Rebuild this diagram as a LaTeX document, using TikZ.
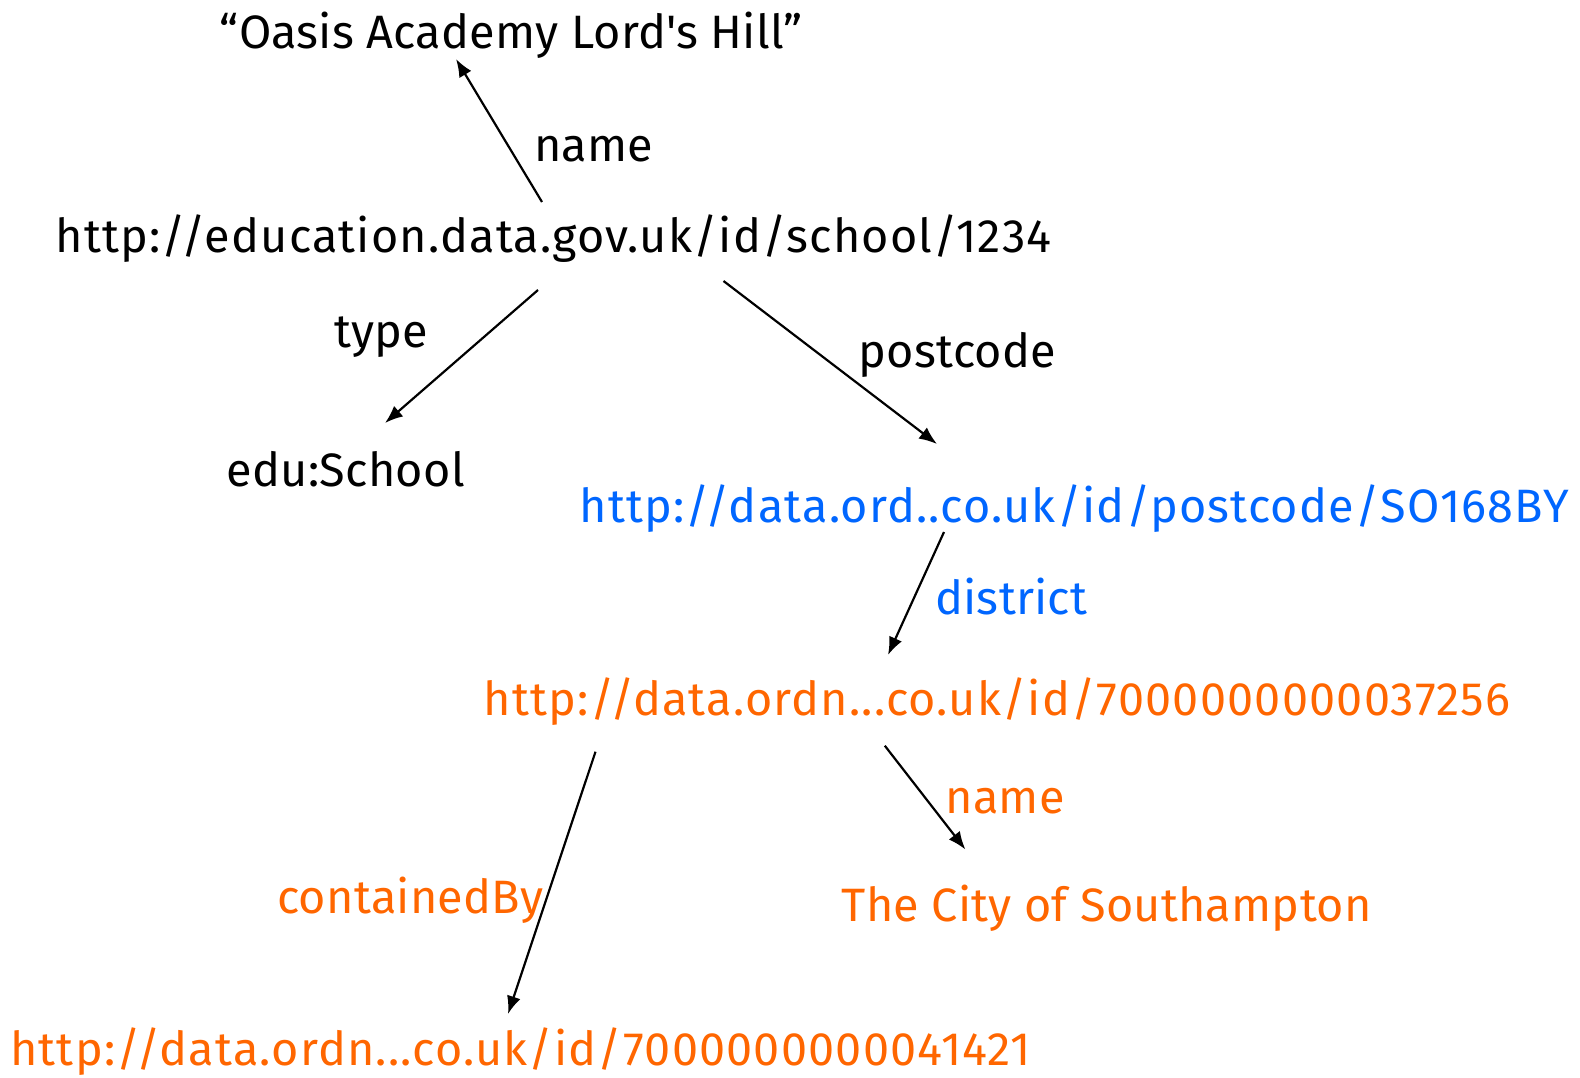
\documentclass[tikz,border=0pt]{standalone}
\usepackage{fontspec}
\setmainfont{Fira Sans}
\newfontfamily\urlfont[LetterSpace=2.5]{Fira Sans}
\newfontfamily\lblfont[LetterSpace=0.5]{Fira Sans}
\usetikzlibrary{arrows.meta}
\definecolor{uriblue}{RGB}{0,102,255}
\definecolor{uriorange}{RGB}{255,102,0}
\begin{document}
\begin{tikzpicture}[x=1bp,y=-1bp,
  lbl/.style={inner sep=0pt,anchor=base west,font=\lblfont\fontsize{47}{52}\selectfont},
  uri/.style={inner sep=0pt,anchor=base west,font=\urlfont\fontsize{47}{52}\selectfont},
  arr/.style={line width=2.2pt,-{Latex[length=18pt,width=14pt]}}]
\node[lbl] (oasis) at (219.7,48.4) {“Oasis Academy Lord\textquotesingle s Hill”};
\node[lbl] (lname) at (534,161) {name};
\node[uri] (school) at (55.4,252) {http://education.data.gov.uk/id/school/1234};
\node[lbl] (ltype) at (334.6,347.7) {type};
\node[lbl] (edu) at (226.7,486.7) {edu:School};
\node[lbl] (lpost) at (858.6,367.8) {postcode};
\node[uri,text=uriblue] (post) at (579.4,522) {http://data.ord..co.uk/id/postcode/SO168BY};
\node[lbl,text=uriblue] (ldist) at (935.1,614.7) {district};
\node[uri,text=uriorange] (dist) at (483.7,715.5) {http://data.ordn...co.uk/id/7000000000037256};
\node[lbl,text=uriorange] (lname2) at (945.2,813.2) {name};
\node[lbl,text=uriorange] (city) at (841.4,921) {The City of Southampton};
\node[lbl,text=uriorange] (lcont) at (277.1,913) {containedBy};
\node[uri,text=uriorange] (county) at (10.1,1065.5) {http://data.ordn...co.uk/id/7000000000041421};
\coordinate (a1s) at (542,202); \coordinate (a1e) at (456,59);
\coordinate (a2s) at (538,290); \coordinate (a2e) at (385,423);
\coordinate (a3s) at (723.5,281); \coordinate (a3e) at (937,444);
\coordinate (a4s) at (944,532); \coordinate (a4e) at (888,655);
\coordinate (a5s) at (884.8,745.7); \coordinate (a5e) at (965.4,849.5);
\coordinate (a6s) at (595.5,751.7); \coordinate (a6e) at (508,1014);
\draw[arr] (a1s) -- (a1e);
\draw[arr] (a2s) -- (a2e);
\draw[arr] (a3s) -- (a3e);
\draw[arr] (a4s) -- (a4e);
\draw[arr] (a5s) -- (a5e);
\draw[arr] (a6s) -- (a6e);
\pgfresetboundingbox
\useasboundingbox (0,0) rectangle (1580,1077);
\end{tikzpicture}
\end{document}
